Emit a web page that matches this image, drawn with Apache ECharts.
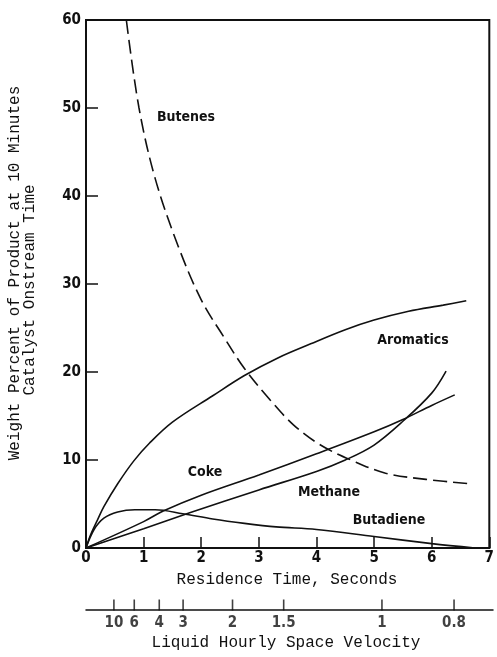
<!DOCTYPE html>
<html><head><meta charset="utf-8">
<script src="https://cdn.jsdelivr.net/npm/echarts@6/dist/echarts.min.js"></script>
<style>html,body{margin:0;padding:0;background:#fff}#c{width:497px;height:657px}</style>
</head><body><div id="c"></div>
<script>
// Residence time (s) vs weight percent
const butenes = [[0.70,60],[0.92,50],[1.2,42],[1.6,34.3],[2.0,28.2],[2.4,23.9],[2.75,20.4],[3.2,16.8],[3.6,14.0],[4.07,11.7],[4.6,10.0],[5.2,8.5],[5.9,7.8],[6.68,7.3]];
const aromatics = [[0,0],[0.08,1.5],[0.2,3.2],[0.31,4.7],[0.55,7.3],[0.83,9.9],[1.1,11.9],[1.5,14.3],[2.2,17.3],[2.75,19.6],[3.33,21.6],[3.9,23.2],[4.5,24.8],[5.0,25.9],[5.6,26.9],[6.2,27.6],[6.6,28.1]];
const coke = [[0,0],[1,3.0],[1.34,4.2],[2,6.0],[3,8.3],[4,10.7],[5,13.2],[5.5,14.6],[6,16.2],[6.4,17.4]];
const methane = [[0,0],[1,2.2],[1.8,4.0],[3,6.6],[4,8.7],[4.5,10.0],[5,11.7],[5.5,14.4],[6,17.6],[6.25,20.1]];
const butadiene = [[0,0],[0.14,2.1],[0.31,3.4],[0.55,4.1],[0.85,4.35],[1.2,4.35],[1.68,3.9],[2.2,3.3],[2.75,2.8],[3.3,2.4],[4,2.1],[5,1.3],[6,0.5],[6.75,0]];
// Liquid hourly space velocity secondary scale: labels and their residence-time positions
const lhsvLabels = ['10','6','4','3','2','1.5','1','0.8'];
const lhsvPos = [0.48,0.83,1.26,1.67,2.52,3.40,5.09,6.33];

const numFont = {fontFamily:'DejaVu Sans Condensed', fontSize:15, fontWeight:'bold', color:'#111'};
const titleFont = 'Liberation Mono';
const lblFont = 'bold 14px "DejaVu Sans Condensed"';
const lineStyle = {color:'#111', width:1.6};

const chart = echarts.init(document.getElementById('c'), null, {renderer:'canvas'});
chart.setOption({
  animation:false,
  backgroundColor:'#fff',
  grid:[
    {left:86, top:20, width:407, height:528, show:true, borderColor:'#111', borderWidth:2, backgroundColor:'transparent'},
    {left:86, top:609, width:407, height:1, show:false}
  ],
  xAxis:[
    {type:'value', gridIndex:0, min:0, max:7, interval:1,
     axisLine:{show:true, lineStyle:{color:'#111', width:2}},
     axisTick:{show:true, inside:true, length:11, lineStyle:{color:'#111', width:1.5}},
     axisLabel:{...numFont, margin:3, showMaxLabel:true, showMinLabel:true},
     splitLine:{show:false}},
    {type:'value', gridIndex:1, min:0, max:7,
     axisLine:{show:true, onZero:false, lineStyle:{color:'#111', width:1.5}},
     axisTick:{show:false}, axisLabel:{show:false}, splitLine:{show:false}}
  ],
  yAxis:[
    {type:'value', gridIndex:0, min:0, max:60, interval:10,
     axisLine:{show:true, lineStyle:{color:'#111', width:2}},
     axisTick:{show:true, inside:true, length:12, lineStyle:{color:'#111', width:1.5}},
     axisLabel:{...numFont, margin:5},
     splitLine:{show:false}},
    {type:'value', gridIndex:1, min:0, max:1, show:false}
  ],
  series:[
    {type:'line', name:'Butenes', data:butenes, smooth:0.35, symbol:'none', clip:true,
     lineStyle:{...lineStyle, type:[14,6]}},
    {type:'line', name:'Aromatics', data:aromatics, smooth:0.35, symbol:'none', lineStyle},
    {type:'line', name:'Coke', data:coke, smooth:0.35, symbol:'none', lineStyle},
    {type:'line', name:'Methane', data:methane, smooth:0.35, symbol:'none', lineStyle},
    {type:'line', name:'Butadiene', data:butadiene, smooth:0.35, symbol:'none', lineStyle},
    {type:'scatter', xAxisIndex:1, yAxisIndex:1,
     data:lhsvPos.map((p,i)=>({value:[p,0], name:lhsvLabels[i]})),
     symbol:'rect', symbolSize:[1.6,11], symbolOffset:[0,-5],
     itemStyle:{color:'#111'},
     label:{show:true, position:'bottom', distance:5, formatter:p=>p.name, ...numFont}}
  ],
  graphic:[
    {type:'text', x:186, y:117, style:{text:'Butenes', font:lblFont, fill:'#111', align:'center', verticalAlign:'middle'}},
    {type:'text', x:413, y:340, style:{text:'Aromatics', font:lblFont, fill:'#111', align:'center', verticalAlign:'middle'}},
    {type:'text', x:205, y:472, style:{text:'Coke', font:lblFont, fill:'#111', align:'center', verticalAlign:'middle'}},
    {type:'text', x:329, y:492, style:{text:'Methane', font:lblFont, fill:'#111', align:'center', verticalAlign:'middle'}},
    {type:'text', x:389, y:520, style:{text:'Butadiene', font:lblFont, fill:'#111', align:'center', verticalAlign:'middle'}},
    {type:'text', x:287, y:580, style:{text:'Residence Time, Seconds', font:'16px "'+titleFont+'"', fill:'#111', align:'center', verticalAlign:'middle'}},
    {type:'text', x:286, y:643, style:{text:'Liquid Hourly Space Velocity', font:'16px "'+titleFont+'"', fill:'#111', align:'center', verticalAlign:'middle'}},
    {type:'text', x:15, y:273, rotation:Math.PI/2, style:{text:'Weight Percent of Product at 10 Minutes', font:'16px "'+titleFont+'"', fill:'#111', align:'center', verticalAlign:'middle'}},
    {type:'text', x:30, y:290, rotation:Math.PI/2, style:{text:'Catalyst Onstream Time', font:'16px "'+titleFont+'"', fill:'#111', align:'center', verticalAlign:'middle'}}
  ]
});
</script></body></html>
